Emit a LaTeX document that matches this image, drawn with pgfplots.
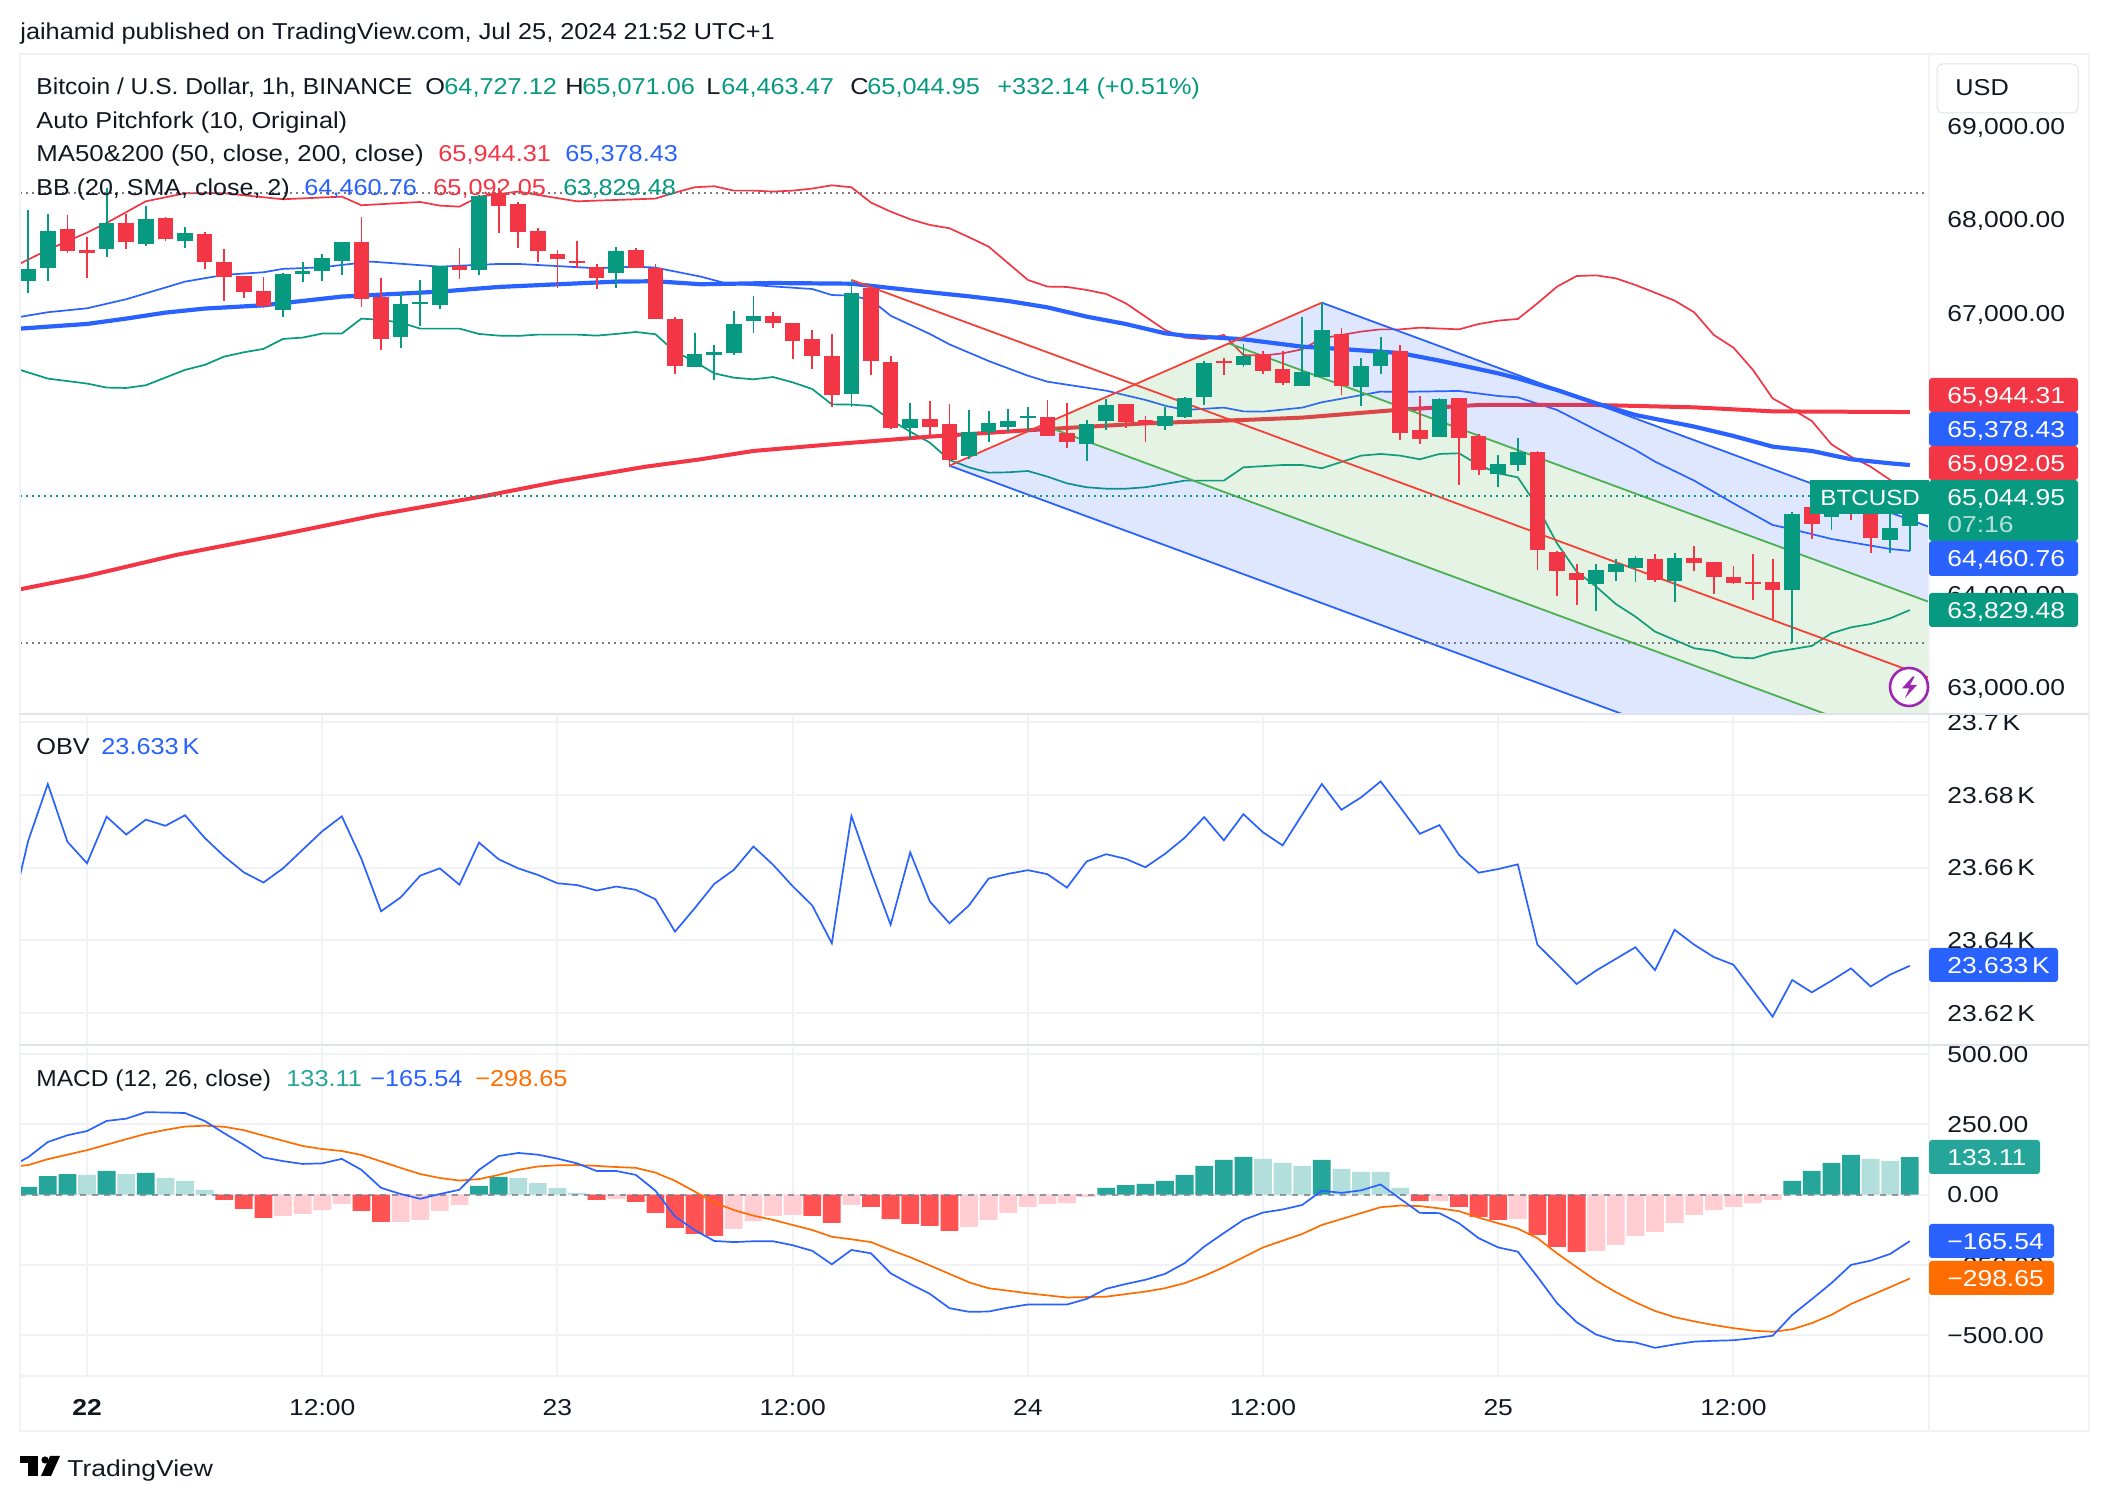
\documentclass[border=0pt]{standalone}
\usepackage{pgfplots}
\pgfplotsset{compat=1.18}
\usepgfplotslibrary{fillbetween}
\usepackage{pgfplotstable}
\usepackage{fontspec}
\setmainfont[FakeStretch=1.15]{Liberation Sans}
\newfontfamily\legf[FakeStretch=1.1]{Liberation Sans}
\definecolor{gC}{HTML}{089981}
\definecolor{rC}{HTML}{F23645}
\definecolor{bC}{HTML}{2962FF}
\definecolor{tick}{HTML}{131722}
\definecolor{gridc}{HTML}{F1F2F5}
\definecolor{paneC}{HTML}{E0E3EB}
\definecolor{forkR}{HTML}{F44336}
\definecolor{forkG}{HTML}{4CAF50}
\definecolor{bbF}{HTML}{2196F3}
\definecolor{orgC}{HTML}{FF6D00}
\definecolor{hG}{HTML}{26A69A}
\definecolor{hGl}{HTML}{B2DFDB}
\definecolor{hR}{HTML}{FF5252}
\definecolor{hRl}{HTML}{FFCDD2}
\definecolor{purp}{HTML}{9C27B0}
\definecolor{dotG}{HTML}{787B86}

\pgfplotstableread{
i o h l c
-3 67349 68104 67221 67474
-2 67484 68061 67349 67880
1 67687 68335 67605 67965
3 67741 68147 67723 68008
5 67773 67922 67698 67858
10 67036 67431 66964 67420
11 67420 67548 67335 67452
12 67452 67634 67345 67591
13 67559 67762 67409 67762
16 66747 67217 66630 67100
17 67100 67356 66865 67121
18 67089 67506 67046 67506
20 67463 68264 67409 68253
27 67431 67709 67271 67666
31 66427 66790 66427 66566
32 66554 66661 66287 66586
33 66576 67024 66554 66885
34 66918 67185 66789 66971
39 66138 67356 66002 67217
42 65774 66042 65657 65871
45 65475 65967 65443 65732
46 65732 65956 65625 65828
47 65785 65977 65732 65849
48 65881 65999 65742 65903
51 65603 65860 65422 65817
52 65849 66084 65753 66020
55 65796 65999 65753 65903
56 65892 66106 65881 66095
57 66106 66490 66020 66469
59 66447 66672 66426 66544
62 66223 66960 66223 66373
63 66319 67113 66319 66821
65 66212 66522 66009 66437
66 66437 66747 66351 66597
69 65678 66095 65678 66084
72 65283 65486 65144 65390
73 65379 65668 65315 65518
77 64108 64322 63819 64257
78 64236 64375 64140 64322
79 64279 64407 64129 64386
81 64140 64439 63916 64386
87 64044 64877 63478 64856
89 64824 65059 64685 64934
92 64578 64970 64439 64706
93 64727.12 65071.06 64463.47 65044.95
}\greenC
\pgfplotstableread{
i o h l c
-1 67901 68050 67641 67666
0 67677 67812 67377 67648
2 67965 68061 67687 67762
4 68018 68029 67776 67794
6 67847 67869 67474 67548
7 67548 67687 67132 67388
8 67399 67399 67164 67228
9 67239 67388 67057 67078
14 67762 68029 67068 67153
15 67174 67377 66608 66726
19 67506 67698 67367 67463
21 68289 68335 67858 68147
22 68168 68189 67698 67869
23 67880 67912 67548 67666
24 67634 67677 67271 67580
25 67559 67773 67484 67538
26 67495 67527 67260 67377
28 67677 67698 67484 67484
29 67484 67527 66939 66939
30 66939 66961 66352 66437
35 66971 67014 66843 66896
36 66896 66896 66512 66704
37 66725 66821 66405 66544
38 66544 66779 66002 66127
40 67270 67270 66341 66490
41 66480 66544 65764 65774
43 65871 66063 65700 65785
44 65817 66031 65368 65433
49 65892 66074 65689 65689
50 65721 66042 65561 65625
53 66031 66031 65774 65839
54 65860 65903 65625 65806
58 66490 66522 66341 66469
60 66565 66597 66351 66383
61 66405 66597 66234 66255
64 66779 66843 66127 66223
67 66597 66661 65646 65721
68 65753 66116 65603 65657
70 66095 66095 65165 65668
71 65689 65710 65272 65326
74 65518 65529 64257 64471
75 64450 64460 63980 64247
76 64225 64322 63884 64151
80 64375 64428 64129 64151
82 64386 64514 64247 64332
83 64343 64343 64001 64183
84 64183 64300 64108 64119
85 64129 64428 63937 64108
86 64129 64375 63734 64044
88 64934 65041 64589 64749
90 64970 65076 64792 64863
91 64934 65023 64439 64599
}\redC

\newcommand\setfs{\fontsize{11.5}{13.8}\selectfont}
\tikzset{lab/.style={anchor=west,inner sep=0pt,text height=8.2pt,text depth=0pt}}
\pgfplotsset{pane/.style={
  scale only axis, width=954.5pt, anchor=south west,
  xmin=-3.42, xmax=93.98,
  axis line style={draw=none}, major tick length=0pt, tick style={draw=none},
  scaled y ticks=false,
  xtick={0,12,24,36,48,60,72,84}, xticklabels={},
  xmajorgrids, ymajorgrids, grid style={gridc,line width=1pt},
  yticklabel pos=right,
  yticklabel style={lab,xshift=9pt,text=tick},
  clip=true}}
\pgfplotsset{cand/.style={draw=none,no markers,forget plot,
  error bars/.cd,y dir=both,y explicit,error mark=none,
  error bar style={line width=#1,line cap=butt}}}

\begin{document}
\setfs
\begin{tikzpicture}
\fill[white] (0,0) rectangle (1054pt,751pt);

% ---------------- price pane
\begin{axis}[pane, at={(10pt,394pt)}, height=330pt,
  ymin=62719, ymax=69770,
  ytick={63000,64000,65000,66000,67000,68000,69000},
  yticklabels={{63,000.00},{64,000.00},{},{},{67,000.00},{68,000.00},{69,000.00}}]
% Bollinger
\addplot[name path=bbu,rC,line width=.85pt] coordinates {(-3.42,67531)(-2,67677)(0,67862)(1,67965)(3,68196)(5,68282)(7,68282)(10,68218)(13,68246)(14,68154)(17,68189)(18,68150)(19,68139)(20,68246)(22,68300)(23,68264)(25,68196)(29,68225)(30,68289)(31,68346)(32,68357)(33,68310)(34,68310)(35,68300)(36,68310)(37,68332)(38,68367)(39,68346)(40,68182)(41,68086)(42,68004)(43,67944)(44,67908)(45,67812)(46,67712)(47,67534)(48,67356)(49,67285)(50,67281)(51,67249)(52,67206)(53,67106)(54,66964)(55,66821)(56,66740)(57,66722)(58,66768)(59,66554)(60,66547)(61,66572)(62,66615)(63,66732)(65,66804)(66,66828)(67,66828)(68,66846)(70,66828)(71,66885)(72,66921)(73,66939)(74,67106)(75,67284)(76,67398)(77,67405)(78,67373)(79,67302)(80,67220)(81,67135)(82,67010)(83,66768)(84,66633)(85,66394)(86,66091)(87,65974)(88,65849)(89,65600)(90,65468)(91,65361)(92,65219)(93,65092.05)};
\addplot[name path=bbl,gC,line width=.85pt] coordinates {(-3.42,66395)(-2,66302)(0,66249)(1,66206)(2,66202)(3,66231)(5,66395)(6,66448)(7,66537)(8,66583)(9,66619)(10,66726)(11,66740)(12,66783)(13,66783)(14,66943)(15,66929)(16,66900)(17,66836)(19,66836)(20,66779)(21,66761)(22,66758)(23,66772)(25,66772)(26,66761)(27,66779)(28,66800)(29,66776)(30,66590)(31,66484)(32,66358)(33,66312)(34,66294)(35,66319)(36,66262)(37,66191)(38,66027)(39,66024)(40,66009)(41,65860)(42,65735)(43,65618)(44,65433)(45,65354)(46,65297)(47,65301)(48,65315)(49,65255)(50,65183)(51,65141)(52,65126)(53,65126)(54,65141)(56,65212)(58,65212)(59,65354)(61,65379)(62,65379)(63,65344)(65,65479)(66,65497)(67,65479)(68,65440)(69,65497)(70,65504)(71,65379)(72,65290)(73,65247)(74,64934)(75,64542)(76,64240)(77,64079)(78,63894)(79,63759)(80,63599)(81,63510)(82,63421)(83,63392)(84,63324)(85,63314)(86,63378)(88,63446)(89,63581)(90,63645)(91,63680)(92,63741)(93,63829.48)};
\addplot[bbF,fill opacity=.05,draw=none] fill between[of=bbu and bbl];
\addplot[bC,line width=.85pt] coordinates {(-3.42,66961)(-2,67011)(0,67053)(2,67150)(5,67338)(7,67410)(9,67438)(10,67474)(12,67491)(13,67516)(14.5,67552)(18,67498)(21,67527)(22,67527)(26,67481)(28,67498)(29,67488)(31.3,67392)(32.6,67320)(37,67259)(38,67195)(39,67188)(40,67142)(41,66974)(43,66779)(44,66668)(46,66490)(48,66333)(49,66269)(51,66205)(52,66173)(54,66074)(55,66013)(56,65967)(58,65992)(59,65952)(60,65949)(62,65992)(63,66049)(66,66163)(67,66160)(70,66170)(72,66116)(73,66102)(75,65967)(77,65753)(79,65539)(80,65415)(82,65212)(84,64970)(86,64738)(87,64692)(89,64589)(92,64482)(93,64460.76)};
% moving averages
\addplot[rC,line width=2pt] coordinates {(-3.42,64051)(0,64193)(4.55,64418)(9.8,64631)(14.8,64845)(20.3,65048)(24,65201)(28.5,65361)(31.3,65440)(34,65529)(38,65600)(43,65682)(48,65750)(54,65824)(59,65860)(62,65885)(67,65970)(71,66020)(77,66020)(82,65995)(86,65952)(93,65944.31)};
\addplot[bC,line width=2.1pt] coordinates {(-3.42,66836)(0,66886)(2,66943)(4,67007)(6,67050)(9,67085)(13,67178)(18,67231)(21,67281)(27,67338)(29,67342)(31.3,67310)(35,67323)(39,67316)(43,67224)(45,67181)(47,67131)(49,67063)(51,66964)(53,66885)(55,66786)(56,66761)(59,66722)(62,66643)(64,66618)(67,66575)(69,66494)(72,66358)(73,66305)(75,66180)(77,66038)(79,65913)(82,65789)(84,65689)(86,65575)(88,65529)(90,65440)(92,65397)(93,65378.43)};
% pitchfork
\addplot[fill=bC,fill opacity=.15,draw=none,forget plot] coordinates {(63,67113)(94,64716.7)(94,63914.5)(58.25,66678)};
\addplot[fill=forkG,fill opacity=.15,draw=none,forget plot] coordinates {(58.25,66678)(94,63914.5)(94,62309)(48.75,65807)};
\addplot[fill=bC,fill opacity=.15,draw=none,forget plot] coordinates {(48.75,65807)(94,62309)(94,61507)(44,65372)};
\addplot[bC,line width=.9pt] coordinates {(63,67113)(94,64716.7)};
\addplot[bC,line width=.9pt] coordinates {(44,65372)(94,61507)};
\addplot[forkG,line width=.9pt] coordinates {(58.25,66678)(94,63914.5)};
\addplot[forkG,line width=.9pt] coordinates {(48.75,65807)(94,62309)};
\addplot[forkR,line width=.9pt] coordinates {(39,67356)(94,63104.5)};
\addplot[forkR,line width=.9pt] coordinates {(44,65372)(63,67113)};
% high / low / close guides
\addplot[dotG,line width=1pt,dash pattern=on 1pt off 2pt] coordinates {(-3.42,68288)(93.8,68288)};
\addplot[dotG,line width=1pt,dash pattern=on 1pt off 2pt] coordinates {(-3.42,63478)(93.8,63478)};
\addplot[gC,line width=1pt,dash pattern=on 1pt off 2pt] coordinates {(-3.42,65044.95)(93.8,65044.95)};
% candles
\addplot[cand=.9pt,error bar style={draw=gC}] table[x=i,y=h,y error plus expr=0,y error minus expr=\thisrow{h}-\thisrow{l}] {\greenC};
\addplot[cand=.9pt,error bar style={draw=rC}] table[x=i,y=h,y error plus expr=0,y error minus expr=\thisrow{h}-\thisrow{l}] {\redC};
\addplot[cand=7.8pt,error bar style={draw=gC}] table[x=i,y=o,y error plus expr=\thisrow{c}-\thisrow{o},y error minus expr=0] {\greenC};
\addplot[cand=7.8pt,error bar style={draw=rC}] table[x=i,y=o,y error plus expr=0,y error minus expr=\thisrow{o}-\thisrow{c}] {\redC};
\end{axis}

% ---------------- OBV pane
\begin{axis}[pane, at={(10pt,229pt)}, height=164pt,
  ymin=23.6115, ymax=23.7017,
  ytick={23.62,23.64,23.66,23.68,23.7},
  yticklabels={{23.62\,K},{23.64\,K},{23.66\,K},{23.68\,K},{23.7\,K}}]
\addplot[bC,line width=.85pt] coordinates {(-3.42,23.6578)(-3,23.6674)(-2,23.6830)(-1,23.6671)(0,23.6612)(1,23.6740)(2,23.6691)(3,23.6732)(4,23.6715)(5,23.6744)(6,23.6682)(7,23.6631)(8,23.6587)(9,23.6559)(10,23.6598)(11,23.6649)(12,23.6700)(13,23.6741)(14,23.6624)(15,23.6480)(16,23.6518)(17,23.6578)(18,23.6598)(19,23.6553)(20,23.6669)(21,23.6623)(22,23.6598)(23,23.6580)(24,23.6557)(25,23.6552)(26,23.6537)(27,23.6548)(28,23.6539)(29,23.6513)(30,23.6424)(31,23.6488)(32,23.6555)(33,23.6594)(34,23.6658)(35,23.6608)(36,23.6549)(37,23.6496)(38,23.6392)(39,23.6742)(40,23.6588)(41,23.6443)(42,23.6642)(43,23.6507)(44,23.6447)(45,23.6496)(46,23.6570)(47,23.6583)(48,23.6593)(49,23.6582)(50,23.6545)(51,23.6617)(52,23.6637)(53,23.6624)(54,23.6601)(55,23.6638)(56,23.6682)(57,23.6739)(58,23.6675)(59,23.6747)(60,23.6697)(61,23.6661)(62,23.6746)(63,23.6830)(64,23.6759)(65,23.6793)(66,23.6837)(67,23.6766)(68,23.6693)(69,23.6717)(70,23.6635)(71,23.6586)(72,23.6596)(73,23.6609)(74,23.6388)(75,23.6335)(76,23.6280)(77,23.6317)(78,23.6349)(79,23.6381)(80,23.6318)(81,23.6429)(82,23.6388)(83,23.6354)(84,23.6333)(85,23.6262)(86,23.6190)(87,23.6291)(88,23.6257)(89,23.6289)(90,23.6323)(91,23.6273)(92,23.6306)(93,23.633)};
\end{axis}

% ---------------- MACD pane
\begin{axis}[pane, at={(10pt,62.75pt)}, height=164.75pt,
  ymin=-647, ymax=525,
  ytick={-500,-250,0,250,500},
  yticklabels={{−500.00},{−250.00},{0.00},{250.00},{500.00}},
  xticklabels={{\textbf{22}},12:00,23,12:00,24,12:00,25,12:00},
  xticklabel style={text=tick,inner sep=0pt,text height=8.2pt,text depth=0pt,yshift=-11pt}]
\addplot[ybar,bar width=8.9pt,bar shift=0pt,fill=hG,draw=none,forget plot] coordinates {(-3,27)(-2,66)(-1,73)(1,84)(3,77)(20,31)(21,63)(52,24)(53,34)(54,38)(55,49)(56,70)(57,102)(58,123)(59,134)(63,123)(87,49)(88,84)(89,113)(90,141)(93,133.11)};
\addplot[ybar,bar width=8.9pt,bar shift=0pt,fill=hGl,draw=none,forget plot] coordinates {(0,70)(2,73)(4,59)(5,49)(6,17)(22,59)(23,41)(24,24)(25,6)(60,127)(61,113)(62,102)(64,91)(65,81)(66,81)(67,24)(91,127)(92,120)};
\addplot[ybar,bar width=8.9pt,bar shift=0pt,fill=hR,draw=none,forget plot] coordinates {(7,-19)(8,-51)(9,-83)(14,-58)(15,-97)(26,-19)(28,-26)(29,-65)(30,-118)(31,-140)(32,-147)(37,-76)(38,-101)(40,-44)(41,-87)(42,-104)(43,-111)(44,-129)(68,-23)(70,-44)(71,-79)(72,-90)(74,-143)(75,-186)(76,-204)};
\addplot[ybar,bar width=8.9pt,bar shift=0pt,fill=hRl,draw=none,forget plot] coordinates {(10,-76)(11,-69)(12,-55)(13,-33)(16,-97)(17,-90)(18,-58)(19,-37)(27,-15)(33,-122)(34,-94)(35,-76)(36,-72)(39,-37)(45,-115)(46,-90)(47,-65)(48,-44)(49,-33)(50,-30)(51,-8)(69,-23)(73,-87)(77,-200)(78,-179)(79,-147)(80,-133)(81,-101)(82,-72)(83,-55)(84,-44)(85,-30)(86,-19)};
\addplot[dotG,opacity=.75,line width=1pt,dash pattern=on 3pt off 3pt] coordinates {(-3.42,0)(93,0)};
\addplot[orgC,line width=.85pt] coordinates {(-3.42,102)(-3,105)(-2,126)(0,158)(2,197)(3,216)(4,230)(5,242)(6,245)(7,241)(8,229)(9,210)(11,173)(12,162)(13,155)(14,141)(15,118)(16,95)(17,73)(18,59)(19,50)(20,55)(21,70)(22,88)(23,100)(24,104)(25,105)(26,102)(27,98)(28,95)(29,78)(30,49)(31,11)(32,-28)(33,-55)(34,-75)(35,-90)(36,-108)(37,-126)(38,-150)(39,-159)(40,-169)(41,-197)(42,-223)(43,-252)(44,-282)(45,-312)(46,-333)(48,-351)(50,-366)(52,-363)(54,-345)(55,-333)(56,-315)(57,-289)(58,-258)(59,-223)(60,-188)(62,-140)(63,-108)(65,-66)(66,-45)(67,-39)(68,-41)(69,-49)(70,-59)(71,-82)(72,-102)(73,-121)(74,-155)(75,-209)(76,-258)(77,-306)(78,-347)(79,-383)(80,-414)(81,-436)(82,-451)(83,-464)(84,-475)(85,-484)(86,-488)(87,-479)(88,-457)(89,-428)(90,-389)(91,-359)(92,-329)(93,-298.65)};
\addplot[bC,line width=.85pt] coordinates {(-3.42,117)(-3,133)(-2,187)(-1,211)(0,226)(1,262)(2,270)(3,293)(4,292)(5,290)(6,262)(7,218)(8,177)(9,132)(10,119)(11,109)(12,111)(13,127)(14,88)(15,24)(16,2)(17,-15)(18,2)(19,17)(20,88)(21,137)(22,148)(23,142)(24,128)(25,111)(26,84)(27,84)(28,70)(29,14)(30,-78)(31,-126)(32,-165)(33,-169)(34,-166)(35,-166)(36,-180)(37,-200)(38,-248)(39,-197)(40,-209)(41,-280)(42,-318)(43,-353)(44,-404)(45,-417)(46,-416)(47,-402)(48,-391)(49,-391)(50,-391)(51,-371)(52,-335)(53,-318)(54,-303)(55,-282)(56,-244)(57,-185)(58,-137)(59,-90)(60,-64)(61,-53)(62,-37)(63,14)(64,6)(65,15)(66,36)(67,-15)(68,-65)(69,-66)(70,-102)(71,-155)(72,-188)(73,-203)(74,-292)(75,-386)(76,-454)(77,-498)(78,-520)(79,-526)(80,-545)(81,-533)(82,-523)(83,-520)(84,-518)(85,-511)(86,-502)(87,-428)(88,-372)(89,-315)(90,-250)(91,-235)(92,-211)(93,-165.54)};
\end{axis}

% ---------------- frame, labels: coordinates below are image pixels
\begin{scope}[x=.5pt,y=-.5pt,yshift=751pt]
\draw[gridc,line width=1pt] (20,54) rectangle (2089,1431);
\draw[gridc,line width=1pt] (1929,54) -- (1929,1431);
\draw[gridc,line width=1pt] (20,1376.5) -- (2089,1376.5);
\draw[paneC,line width=1pt] (20,714.5) -- (2089,714.5);
\draw[paneC,line width=1pt] (20,1045.5) -- (2089,1045.5);

\newcommand\T[4]{\node[lab,text=#3,font=\legf] at (#1,#2) {#4};}
\T{20}{31}{tick}{jaihamid published on TradingView.com, Jul 25, 2024 21:52 UTC+1}
\T{36}{86}{tick}{\scalebox{.972}[1]{Bitcoin / U.S. Dollar, 1h, BINANCE}}
\T{425}{86}{tick}{O}\T{444}{86}{gC}{64,727.12}
\T{565}{86}{tick}{H}\T{582}{86}{gC}{65,071.06}
\T{706}{86}{tick}{L}\T{721}{86}{gC}{64,463.47}
\T{850}{86}{tick}{C}\T{867}{86}{gC}{65,044.95}
\T{997}{86}{gC}{+332.14 (+0.51\%)}
\T{36}{120}{tick}{Auto Pitchfork (10, Original)}
\T{36}{153}{tick}{\scalebox{1.02}[1]{MA50\&200 (50, close, 200, close)}}
\T{438}{153}{rC}{65,944.31}\T{565}{153}{bC}{65,378.43}
\T{36}{187}{tick}{\scalebox{.99}[1]{BB (20, SMA, close, 2)}}
\T{304}{187}{bC}{64,460.76}\T{433}{187}{rC}{65,092.05}\T{563}{187}{gC}{63,829.48}
\T{36}{746}{tick}{OBV}\T{101}{746}{bC}{23.633\,K}
\T{36}{1078}{tick}{\scalebox{.97}[1]{MACD (12, 26, close)}}
\T{286}{1078}{hG}{133.11}\T{370}{1078}{bC}{−165.54}\T{475}{1078}{orgC}{−298.65}

% USD box
\draw[paneC,fill=white,rounded corners=3pt,line width=.5pt] (1937,64) rectangle (2078,113);
\T{1955}{87}{tick}{USD}

% price tags
\newcommand\Tag[6]{\fill[#5,rounded corners=1.5pt] (1929,#2) rectangle (#1,#3); \node[lab,text=white] at (1947,{(#2+#3)/2}) {#4};}
\Tag{2078}{378}{412}{65,944.31}{rC}{}
\Tag{2078}{412}{446}{65,378.43}{bC}{}
\Tag{2078}{446}{480}{65,092.05}{rC}{}
\fill[gC,rounded corners=1.5pt] (1929,480) rectangle (2078,541);
\node[lab,text=white] at (1947,497) {65,044.95};
\node[lab,text=white,opacity=.7] at (1947,524) {07:16};
\Tag{2078}{541}{576}{64,460.76}{bC}{}
\Tag{2078}{593}{627}{63,829.48}{gC}{}
\fill[gC] (1810,480) rectangle (1929,514);
\node[lab,text=white,font=\legf\fontsize{11}{13}\selectfont] at (1820,497) {BTCUSD};
\Tag{2058}{948}{982}{23.633\,K}{bC}{}
\Tag{2040}{1140}{1174}{133.11}{hG}{}
\Tag{2054}{1224}{1258}{−165.54}{bC}{}
\Tag{2054}{1261}{1295}{−298.65}{orgC}{}

% lightning badge
\draw[purp,fill=white,line width=1.3pt] (1909,687) circle[radius=19];
\fill[purp] (1912.5,676.7)--(1902,688.3)--(1909.3,688.3)--(1904.8,698.3)--(1917,685)--(1910,685)--(1914.7,676.7)--cycle;

% logo
\fill[black] (20,1456) rectangle (38,1463);
\fill[black] (28,1456) rectangle (38,1476);
\fill[black] (45,1460) circle[radius=3.6];
\fill[black] (41,1476)--(50,1456)--(60,1456)--(51,1476)--cycle;
\node[lab,text=tick] at (67,1468) {TradingView};
\end{scope}
\pgfresetboundingbox
\path[use as bounding box] (0,0) rectangle (1054pt,751pt);
\end{tikzpicture}
\end{document}
